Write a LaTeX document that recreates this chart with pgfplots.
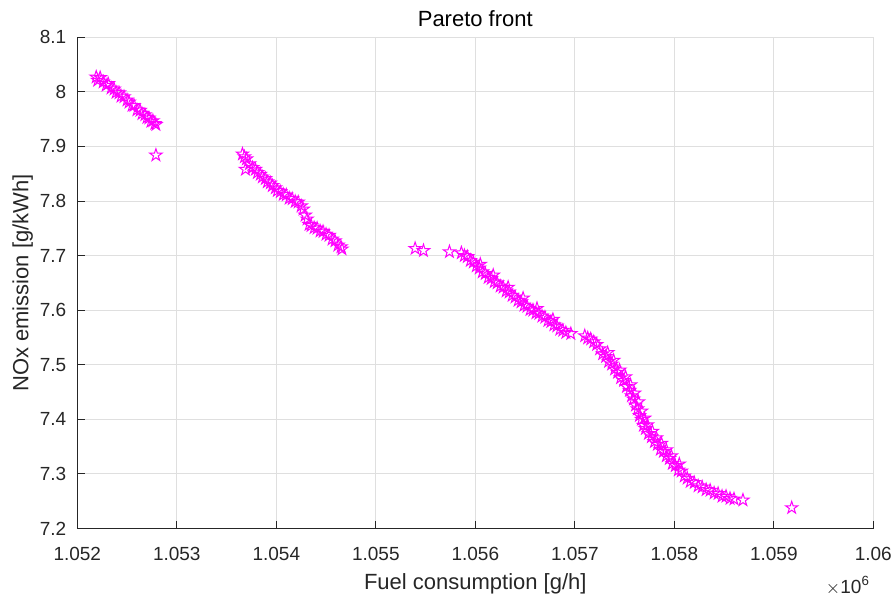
\documentclass[border=0pt]{standalone}
\usepackage{fontspec}
\setmainfont{Liberation Sans}
\usepackage{pgfplots}
\usepackage{pgfplotstable}
\pgfplotsset{compat=1.18}

\definecolor{axisgray}{RGB}{38,38,38}
\definecolor{gridgray}{RGB}{223,223,223}
\definecolor{starmag}{RGB}{255,0,255}

% open five-pointed star marker
\pgfdeclareplotmark{pentagram}{%
  \pgfpathmoveto{\pgfpointpolar{90}{\pgfplotmarksize}}%
  \pgfpathlineto{\pgfpointpolar{126}{0.382\pgfplotmarksize}}%
  \pgfpathlineto{\pgfpointpolar{162}{\pgfplotmarksize}}%
  \pgfpathlineto{\pgfpointpolar{198}{0.382\pgfplotmarksize}}%
  \pgfpathlineto{\pgfpointpolar{234}{\pgfplotmarksize}}%
  \pgfpathlineto{\pgfpointpolar{270}{0.382\pgfplotmarksize}}%
  \pgfpathlineto{\pgfpointpolar{306}{\pgfplotmarksize}}%
  \pgfpathlineto{\pgfpointpolar{342}{0.382\pgfplotmarksize}}%
  \pgfpathlineto{\pgfpointpolar{18}{\pgfplotmarksize}}%
  \pgfpathlineto{\pgfpointpolar{54}{0.382\pgfplotmarksize}}%
  \pgfpathclose
  \pgfusepathqstroke
}

% fuel consumption [g/h], NOx emission [g/kWh]
\pgfplotstableread{
x y
1052190 8.027
1052205 8.021
1052230 8.026
1052260 8.018
1052290 8.012
1052310 8.015
1052340 8.007
1052370 8.005
1052390 7.999
1052420 7.998
1052440 7.992
1052470 7.991
1052500 7.985
1052520 7.981
1052550 7.975
1052570 7.975
1052600 7.967
1052630 7.966
1052650 7.960
1052680 7.958
1052700 7.953
1052720 7.952
1052740 7.946
1052760 7.947
1052780 7.942
1052790 7.940
1052790 7.884
1053660 7.886
1053680 7.881
1053700 7.877
1053690 7.858
1053730 7.868
1053760 7.861
1053790 7.858
1053810 7.852
1053840 7.849
1053860 7.844
1053890 7.841
1053910 7.835
1053940 7.833
1053960 7.828
1053990 7.824
1054010 7.819
1054040 7.817
1054070 7.812
1054100 7.811
1054130 7.805
1054160 7.804
1054190 7.799
1054220 7.798
1054250 7.791
1054270 7.785
1054290 7.774
1054310 7.767
1054330 7.757
1054350 7.755
1054380 7.751
1054410 7.750
1054440 7.745
1054470 7.744
1054500 7.739
1054530 7.737
1054560 7.730
1054590 7.727
1054620 7.719
1054650 7.716
1054660 7.712
1055395 7.713
1055479 7.709
1055740 7.707
1055860 7.705
1055890 7.700
1055920 7.698
1055950 7.691
1055980 7.688
1056010 7.681
1056040 7.677
1056070 7.670
1056100 7.667
1056130 7.660
1056160 7.658
1056190 7.652
1056220 7.650
1056250 7.644
1056280 7.642
1056310 7.635
1056340 7.633
1056370 7.627
1056400 7.624
1056430 7.618
1056460 7.615
1056490 7.609
1056520 7.607
1056550 7.601
1056580 7.600
1056610 7.595
1056640 7.594
1056670 7.589
1056700 7.587
1056730 7.581
1056760 7.579
1056790 7.573
1056820 7.571
1056850 7.565
1056880 7.563
1056910 7.559
1056960 7.557
1057100 7.553
1057130 7.549
1057160 7.547
1057190 7.542
1057220 7.537
1057250 7.529
1057280 7.520
1057310 7.515
1057340 7.506
1057370 7.501
1057400 7.492
1057430 7.486
1057460 7.476
1057490 7.471
1057520 7.460
1057550 7.453
1057570 7.443
1057590 7.437
1057610 7.426
1057630 7.419
1057650 7.407
1057670 7.400
1057690 7.389
1057710 7.383
1057740 7.374
1057770 7.368
1057800 7.359
1057830 7.354
1057860 7.345
1057890 7.341
1057920 7.333
1057950 7.328
1057980 7.319
1058010 7.315
1058040 7.307
1058070 7.305
1058100 7.296
1058130 7.292
1058160 7.286
1058200 7.284
1058240 7.278
1058280 7.276
1058320 7.271
1058360 7.270
1058400 7.265
1058440 7.264
1058480 7.259
1058520 7.259
1058560 7.255
1058600 7.254
1058690 7.252
1059180 7.238
1057330 7.522
1057390 7.508
1057450 7.490
1057510 7.478
1057560 7.463
1057600 7.448
1057640 7.432
1057670 7.415
1057700 7.402
1057730 7.390
1057780 7.378
1057820 7.366
1057870 7.356
1057920 7.344
1057970 7.333
1058050 7.318
1056050 7.684
1056180 7.664
1056330 7.642
1056480 7.622
1056620 7.603
1056780 7.583
}\paretodata

\begin{document}
\begin{tikzpicture}
\path[use as bounding box] (-38.65pt,-35.25pt) rectangle (408.35pt,264.25pt);
\begin{axis}[
  at={(0,0)}, anchor=south west,
  scale only axis, width=398pt, height=245.6pt,
  xmin=1052000, xmax=1060000, ymin=7.2, ymax=8.1,
  xtick={1052000,1053000,1054000,1055000,1056000,1057000,1058000,1059000,1060000},
  ytick={7.2,7.3,7.4,7.5,7.6,7.7,7.8,7.9,8,8.1},
  scaled x ticks=base 10:-6,
  xtick scale label code/.code={$\times$10\textsuperscript{#1}},
  every x tick scale label/.style={at={(axis description cs:1,0)}, anchor=base east,
    inner sep=0pt, yshift=-16.4pt, xshift=-1.5pt,
    font=\fontsize{9.5}{11}\selectfont, text=axisgray},
  axis x line*=bottom, axis y line*=left,
  axis line style={axisgray, line width=0.5pt, -},
  tick align=inside, major tick length=4pt,
  tick style={axisgray, line width=0.5pt},
  grid=major, major grid style={gridgray, line width=0.5pt},
  tick label style={font=\fontsize{9.5}{11}\selectfont, text=axisgray,
    /pgf/number format/assume math mode=true},
  xticklabel style={anchor=base, yshift=-15.9pt,
    /pgf/number format/fixed, /pgf/number format/precision=3},
  yticklabel style={xshift=-2pt},
  title={Pareto front},
  title style={at={(axis description cs:0.5,1)}, anchor=base, yshift=-0.6pt,
    font=\fontsize{11}{13}\selectfont, text=black},
  xlabel={Fuel consumption [g/h]},
  xlabel style={at={(axis description cs:0.5,0)}, anchor=base, yshift=-30.4pt,
    font=\fontsize{11}{13}\selectfont, text=axisgray},
  ylabel={NOx emission [g/kWh]},
  ylabel style={at={(axis description cs:-0.06156,0.5)}, anchor=base,
    font=\fontsize{11}{13}\selectfont, text=axisgray},
]
\addplot[only marks, mark=pentagram, mark size=3.25pt, draw=starmag,
  mark options={line width=0.5pt}] table[x=x, y=y] {\paretodata};
\end{axis}
\end{tikzpicture}
\end{document}
